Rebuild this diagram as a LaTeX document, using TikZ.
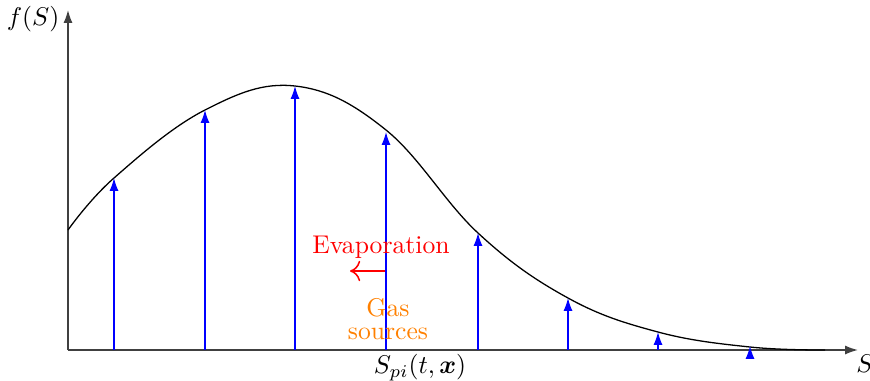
\documentclass[tikz,border=0pt]{standalone}
\usepackage{amsmath, amssymb}
\usetikzlibrary{arrows.meta, positioning, calc}

\begin{document}
\begin{tikzpicture}[
  x=0.39pt, y=0.39pt,
  axis/.style={draw=black!75, line width=0.6pt, -{Latex[length=5pt,width=3.5pt]}},
  flux/.style={draw=blue, line width=0.5pt, -{Latex[length=5pt,width=3.5pt]}},
  lbl/.style={inner sep=1pt, font=\normalsize}
]
  \useasboundingbox (0,0) rectangle (870,380);
  % axes
  \coordinate (O) at (68,30);
  \coordinate (xend) at (858,30);
  \coordinate (yend) at (68,370);
  \draw[axis] (O) -- (xend);
  \draw[axis] (O) -- (yend);
  \node[lbl] (fS) at (33,361) {$f(S)$};
  \node[lbl] (Slbl) at (865,16) {$S$};
  \node[lbl] (Spi) at (420,12) {$S_{pi}(t,\boldsymbol{x})$};
  % distribution
  \draw[black, line width=0.5pt] plot[smooth, tension=0.65] coordinates {
    (68,150) (114,202) (205,270) (295,294) (386,250) (478,147)
    (568,82) (658,48) (750,33) (825,30)};
  % source arrows
  \foreach \px/\py in {114/202, 205/270, 295/294, 386/248, 478/147, 568/82, 658/48, 750/34}
    \draw[flux] (\px,30) -- (\px,\py);
  % labels
  \node[lbl, text=red] (evap) at (381,133) {Evaporation};
  \coordinate (evs) at (385,109);
  \coordinate (eve) at (350,109);
  \draw[red, line width=0.6pt, -{To[length=4pt,width=8pt]}] (evs) -- (eve);
  \node[lbl, text=orange, align=center] (gas) at (388,61) {Gas\\[-3pt]sources};
\end{tikzpicture}
\end{document}
